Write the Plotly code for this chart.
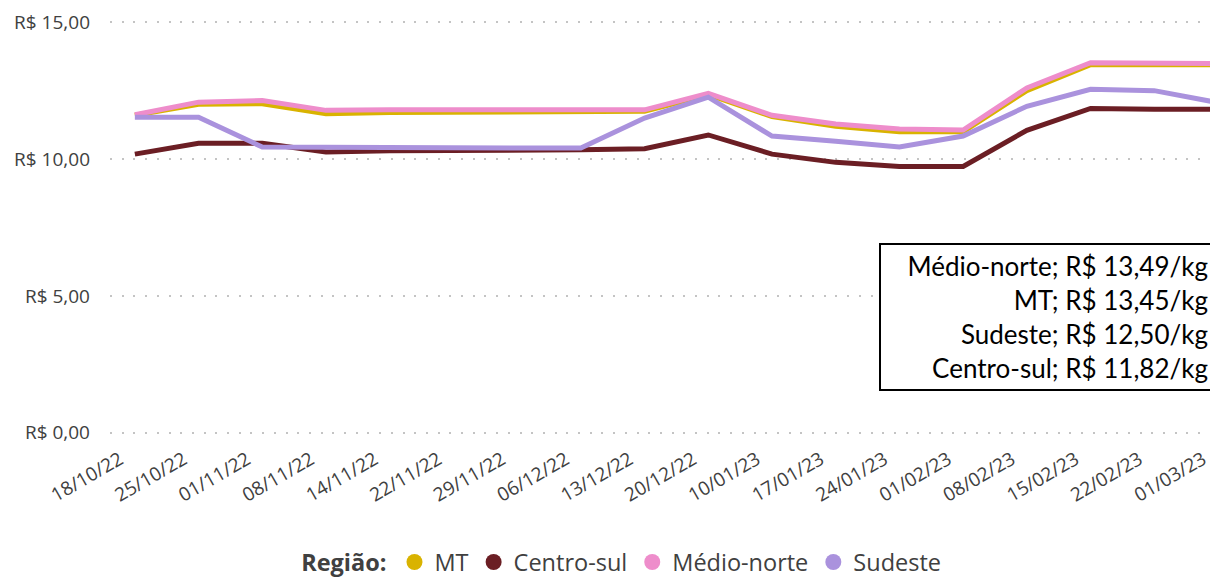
import plotly.graph_objects as go

# ── DATA ───────────────────────────────────────────────────────
datas = [
    '18/10/22', '25/10/22', '01/11/22', '08/11/22', '14/11/22', '22/11/22',
    '29/11/22', '06/12/22', '13/12/22', '20/12/22', '10/01/23', '17/01/23',
    '24/01/23', '01/02/23', '08/02/23', '15/02/23', '22/02/23', '01/03/23',
]

mt = [11.60, 12.00, 12.02, 11.66, 11.70, 11.72, 11.74, 11.74, 11.75, 12.35,
      11.55, 11.20, 11.00, 11.00, 12.50, 13.45, 13.45, 13.45]
centro_sul = [10.18, 10.58, 10.58, 10.26, 10.30, 10.30, 10.32, 10.34, 10.38, 10.88,
              10.18, 9.88, 9.73, 9.73, 11.05, 11.85, 11.82, 11.82]
medio_norte = [11.62, 12.08, 12.14, 11.78, 11.80, 11.80, 11.80, 11.80, 11.80, 12.40,
               11.60, 11.28, 11.10, 11.06, 12.60, 13.52, 13.50, 13.49]
sudeste = [11.53, 11.53, 10.44, 10.42, 10.40, 10.40, 10.40, 10.40, 11.50, 12.26,
           10.84, 10.65, 10.44, 10.84, 11.93, 12.55, 12.50, 12.06]

y_ticks = [0, 5, 10, 15]
y_tick_text = ['R$ 0,00', 'R$ 5,00', 'R$ 10,00', 'R$ 15,00']

box_lines = [
    'Médio-norte; R$ 13,49/kg',
    'MT; R$ 13,45/kg',
    'Sudeste; R$ 12,50/kg',
    'Centro-sul; R$ 11,82/kg',
]

# ── STYLE ──────────────────────────────────────────────────────
series = [
    ('MT', mt, '#D9B300'),
    ('Centro-sul', centro_sul, '#6B1E24'),
    ('Médio-norte', medio_norte, '#EE8DCB'),
    ('Sudeste', sudeste, '#AA92DD'),
]
draw_order = ['MT', 'Médio-norte', 'Centro-sul', 'Sudeste']
TEXT = '#404040'
FONT = 'Open Sans, sans-serif'

fig = go.Figure()

by_name = {s[0]: s for s in series}
for name in draw_order:
    _, vals, color = by_name[name]
    fig.add_trace(go.Scatter(
        x=datas, y=vals, mode='lines', name=name,
        line=dict(color=color, width=5),
        showlegend=False, legendgroup=name,
    ))

# legend entries shown as round markers
for name, _, color in series:
    fig.add_trace(go.Scatter(
        x=[None], y=[None], mode='markers', name=name,
        marker=dict(color=color, size=18, symbol='circle'),
        legendgroup=name, showlegend=True,
    ))

box = dict(
    text='<br>'.join(box_lines),
    xref='paper', yref='paper', x=1, y=0.464,
    xanchor='right', yanchor='top', xshift=-3,
    align='right', valign='middle', showarrow=False,
    width=322, height=134,
    font=dict(size=26, color='black', family='Lato, sans-serif'),
    bordercolor='black', borderwidth=2, borderpad=5,
    bgcolor='white',
)

# page body has an 8px margin, so the figure is sized 1210x569
fig.update_layout(
    width=1210, height=569,
    paper_bgcolor='white', plot_bgcolor='white',
    font=dict(family=FONT, color=TEXT, size=19),
    margin=dict(l=102, r=0, t=6, b=136),
    xaxis=dict(
        type='category', range=[-0.39, 17],
        showgrid=False, showline=False, zeroline=False,
        tickangle=-30, tickfont=dict(size=19, color=TEXT),
        ticks='', automargin=False,
        ticklabelshift=-15, ticklabelstandoff=3,
    ),
    yaxis=dict(
        range=[-0.3, 15.3],
        tickvals=y_ticks, ticktext=y_tick_text,
        tickfont=dict(size=19, color=TEXT),
        ticklabelstandoff=19,
        showgrid=True, gridcolor='#C4C4C4', griddash='2px,9.7px', gridwidth=2,
        zeroline=False, showline=False, automargin=False,
    ),
    legend=dict(
        orientation='h', xref='container', yref='container',
        x=0.508, xanchor='center', y=0.026, yanchor='middle',
        font=dict(size=23.5, color=TEXT, family=FONT),
        title=dict(text='<b>Região:</b>', font=dict(size=23.5, color=TEXT)),
        itemwidth=30,
    ),
    annotations=[box],
)

fig.write_html("out.html")
